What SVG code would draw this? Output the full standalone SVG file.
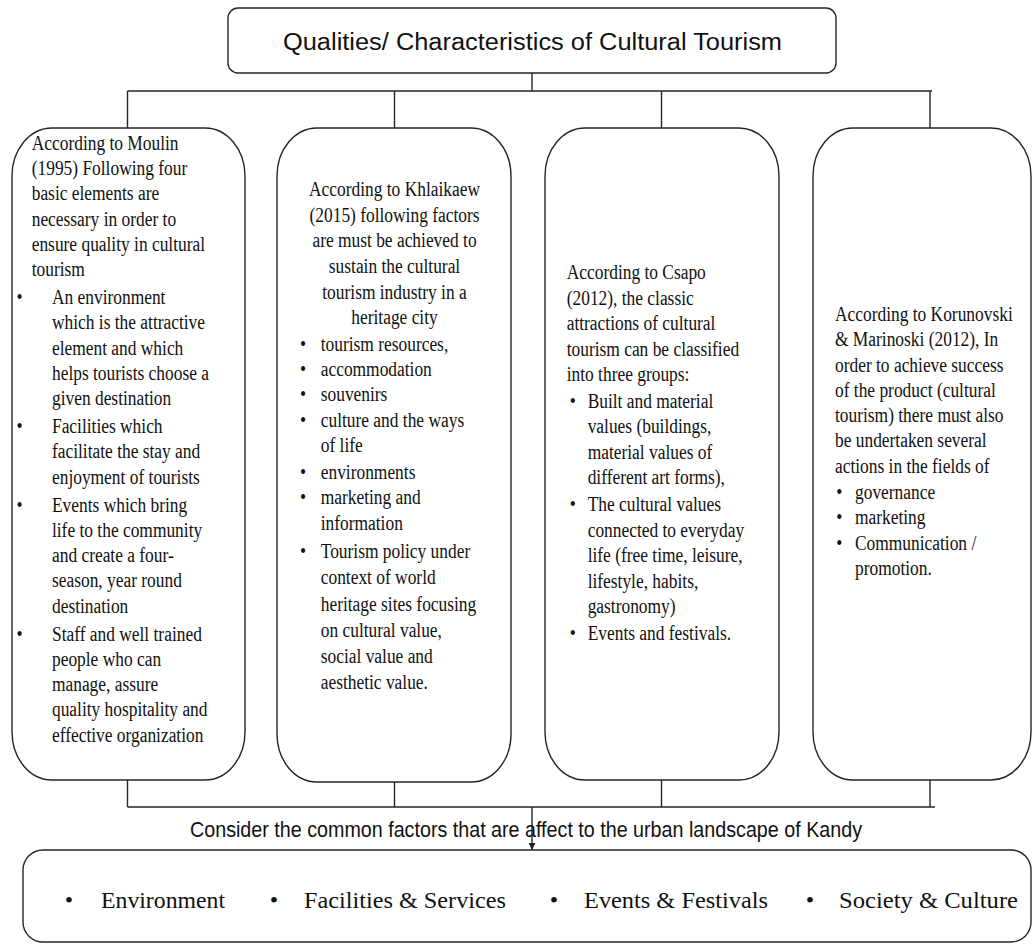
<svg xmlns="http://www.w3.org/2000/svg" width="1036" height="947" viewBox="0 0 1036 947">
<style>
.bx{fill:#fff;stroke:#262626;stroke-width:1.4}
.ln{fill:none;stroke:#262626;stroke-width:1.4}
.t{font-family:"Liberation Serif","Times New Roman",serif;font-size:20px;fill:#111;white-space:pre}
.c{text-anchor:middle}
.s{font-family:"Liberation Sans",Arial,sans-serif;fill:#111}
.b{font-family:"Liberation Serif","Times New Roman",serif;font-size:24px;fill:#111}
</style>
<defs>
<marker id="ah" viewBox="0 0 10 10" refX="10" refY="5" markerWidth="7" markerHeight="7" orient="auto" markerUnits="userSpaceOnUse">
<path d="M0,0 L10,5 L0,10 Z" fill="#262626"/>
</marker>
</defs>
<rect width="1036" height="947" fill="#fff"/>

<g id="connectors">
<path class="ln" d="M532,73 V91 M127.5,91 H932 M127.5,91 V128 M394.5,91 V128 M661.5,91 V128 M930,91 V128"/>
<path class="ln" d="M127.5,780 V807 M394.5,782 V807 M661.5,780 V807 M930,780 V807 M127.5,807 H935"/>
<path class="ln" d="M532,807 V850" marker-end="url(#ah)"/>
</g>

<g id="title">
<rect class="bx" x="228" y="8" width="608" height="65" rx="10"/>
<text class="s" x="283" y="50" font-size="23" textLength="499" lengthAdjust="spacingAndGlyphs">Qualities/ Characteristics of Cultural Tourism</text>
</g>

<g id="moulin">
<rect class="bx" x="12" y="128" width="233" height="652" rx="40" ry="48"/>
<g transform="matrix(0.87 0 0 1 31.7 0)" class="t">
<text x="0" y="150">According  to Moulin</text>
<text x="0" y="175.2">(1995) Following  four</text>
<text x="0" y="200.4">basic elements  are</text>
<text x="0" y="225.6">necessary  in  order to</text>
<text x="0" y="250.8">ensure  quality  in cultural</text>
<text x="0" y="276">tourism</text>
<text x="-17.5" y="304.2">•</text>
<text x="23.3" y="304.2">An environment</text>
<text x="23.3" y="329.4">which  is the attractive</text>
<text x="23.3" y="354.6">element  and which</text>
<text x="23.3" y="379.8">helps  tourists  choose a</text>
<text x="23.3" y="405">given  destination</text>
<text x="-17.5" y="433.2">•</text>
<text x="23.3" y="433.2">Facilities  which</text>
<text x="23.3" y="458.4">facilitate  the stay and</text>
<text x="23.3" y="483.6">enjoyment  of tourists</text>
<text x="-17.5" y="511.8">•</text>
<text x="23.3" y="511.8">Events which  bring</text>
<text x="23.3" y="537">life  to the community</text>
<text x="23.3" y="562.2">and create a four-</text>
<text x="23.3" y="587.4">season, year round</text>
<text x="23.3" y="612.6">destination</text>
<text x="-17.5" y="640.8">•</text>
<text x="23.3" y="640.8">Staff and well  trained</text>
<text x="23.3" y="666">people who can</text>
<text x="23.3" y="691.2">manage,  assure</text>
<text x="23.3" y="716.4">quality  hospitality  and</text>
<text x="23.3" y="741.6">effective  organization</text>
</g>
</g>

<g id="khlaikaew">
<rect class="bx" x="277" y="128" width="234" height="654" rx="40" ry="48"/>
<g transform="matrix(0.87 0 0 1 394.5 0)" class="t">
<text class="c" x="0" y="196">According  to Khlaikaew</text>
<text class="c" x="0" y="221.7">(2015) following  factors</text>
<text class="c" x="0" y="247.4">are must  be achieved  to</text>
<text class="c" x="0" y="273.1">sustain  the cultural</text>
<text class="c" x="0" y="298.8">tourism  industry  in  a</text>
<text class="c" x="0" y="324.5">heritage  city</text>
<text x="-108.6" y="351.5">•</text>
<text x="-84.8" y="351.5">tourism  resources,</text>
<text x="-108.6" y="376.5">•</text>
<text x="-84.8" y="376.5">accommodation</text>
<text x="-108.6" y="401.5">•</text>
<text x="-84.8" y="401.5">souvenirs</text>
<text x="-108.6" y="427.5">•</text>
<text x="-84.8" y="427.5">culture  and the ways</text>
<text x="-84.8" y="452.5">of life</text>
<text x="-108.6" y="479">•</text>
<text x="-84.8" y="479">environments</text>
<text x="-108.6" y="504.5">•</text>
<text x="-84.8" y="504.5">marketing  and</text>
<text x="-84.8" y="530">information</text>
<text x="-108.6" y="558.5">•</text>
<text x="-84.8" y="558.5">Tourism  policy  under</text>
<text x="-84.8" y="584.5">context  of world</text>
<text x="-84.8" y="611">heritage  sites focusing</text>
<text x="-84.8" y="637.5">on cultural  value,</text>
<text x="-84.8" y="663.5">social value  and</text>
<text x="-84.8" y="689.5">aesthetic  value.</text>
</g>
</g>

<g id="csapo">
<rect class="bx" x="545" y="128" width="234" height="652" rx="40" ry="48"/>
<g transform="matrix(0.87 0 0 1 566.7 0)" class="t">
<text x="0" y="279.5">According  to Csapo</text>
<text x="0" y="305">(2012), the classic</text>
<text x="0" y="330.5">attractions  of cultural</text>
<text x="0" y="356">tourism  can be classified</text>
<text x="0" y="381.5">into  three groups:</text>
<text x="3.4" y="408">•</text>
<text x="24.1" y="408">Built  and material</text>
<text x="24.1" y="433.5">values  (buildings,</text>
<text x="24.1" y="459">material  values  of</text>
<text x="24.1" y="484.5">different  art forms),</text>
<text x="3.4" y="511.5">•</text>
<text x="24.1" y="511.5">The cultural  values</text>
<text x="24.1" y="537">connected  to everyday</text>
<text x="24.1" y="562.5">life  (free  time,  leisure,</text>
<text x="24.1" y="588">lifestyle,  habits,</text>
<text x="24.1" y="613.5">gastronomy)</text>
<text x="3.4" y="640.5">•</text>
<text x="24.1" y="640.5">Events  and festivals.</text>
</g>
</g>

<g id="korunovski">
<rect class="bx" x="813" y="128" width="218" height="652" rx="40" ry="48"/>
<g transform="matrix(0.87 0 0 1 835 0)" class="t">
<text x="0" y="321">According  to Korunovski</text>
<text x="0" y="346.3">&amp; Marinoski  (2012), In</text>
<text x="0" y="371.6">order to achieve  success</text>
<text x="0" y="396.9">of the product (cultural</text>
<text x="0" y="422.2">tourism)  there must  also</text>
<text x="0" y="447.5">be undertaken  several</text>
<text x="0" y="472.8">actions  in  the fields  of</text>
<text x="1.5" y="499">•</text>
<text x="23" y="499">governance</text>
<text x="1.5" y="524.5">•</text>
<text x="23" y="524.5">marketing</text>
<text x="1.5" y="550">•</text>
<text x="23" y="550">Communication  /</text>
<text x="23" y="575.5">promotion.</text>
</g>
</g>

<g id="consider-label">
<text class="s" x="190" y="837" font-size="22" textLength="672" lengthAdjust="spacingAndGlyphs">Consider the common factors that are affect to the urban landscape of Kandy</text>
</g>

<g id="common-factors">
<rect class="bx" x="23" y="850" width="1008" height="92" rx="20"/>
<text class="b c" x="69" y="908">•</text>
<text class="b" x="101" y="908" textLength="124" lengthAdjust="spacingAndGlyphs">Environment</text>
<text class="b c" x="274" y="908">•</text>
<text class="b" x="304" y="908" textLength="202" lengthAdjust="spacingAndGlyphs">Facilities &amp; Services</text>
<text class="b c" x="554" y="908">•</text>
<text class="b" x="584" y="908" textLength="184" lengthAdjust="spacingAndGlyphs">Events &amp; Festivals</text>
<text class="b c" x="810" y="908">•</text>
<text class="b" x="839" y="908" textLength="179" lengthAdjust="spacingAndGlyphs">Society &amp; Culture</text>
</g>
</svg>
